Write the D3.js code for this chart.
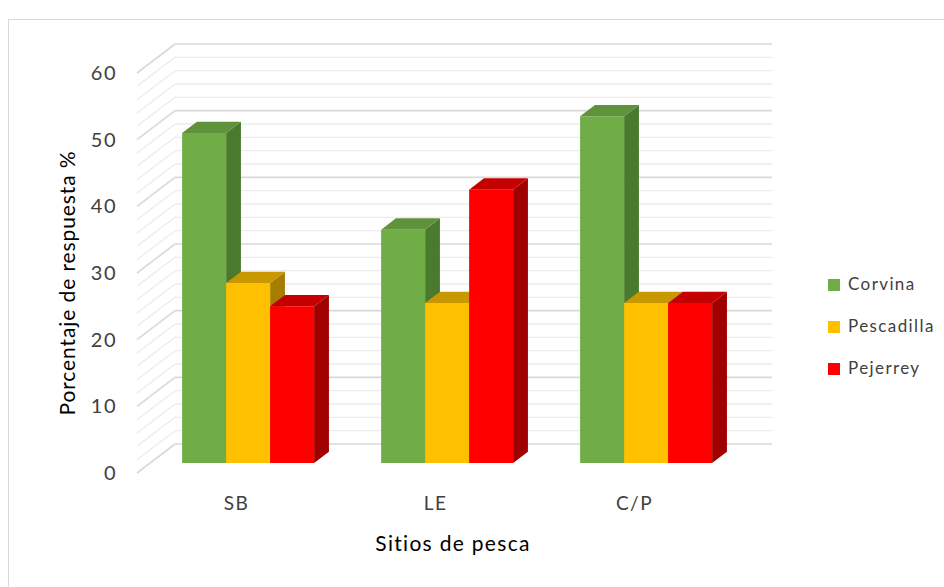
<!DOCTYPE html>
<html>
<head>
<meta charset="utf-8">
<script src="https://cdn.jsdelivr.net/npm/d3@7"></script>
<style>
  html, body { margin: 0; padding: 0; background: #fff; }
  svg { display: block; }
  text { font-family: Lato, "Open Sans", sans-serif; fill: #404040; }
</style>
</head>
<body>
<svg id="chart" width="944" height="587"></svg>
<script>
// Fish species mentioned per fishing site (% of responses)
const sites = ["SB", "LE", "C/P"];
const species = ["Corvina", "Pescadilla", "Pejerrey"];
const corvina = [49.5, 35, 52];
const pescadilla = [27, 24, 24];
const pejerrey = [23.5, 41, 24];
const yTicks = [0, 10, 20, 30, 40, 50, 60];

const seriesValues = [corvina, pescadilla, pejerrey];
const palette = {
  Corvina:    { front: "#70ad47", top: "#5f923b", side: "#4a7a2e" },
  Pescadilla: { front: "#ffc000", top: "#c99800", side: "#a67d00" },
  Pejerrey:   { front: "#ff0000", top: "#c40000", side: "#a00000" }
};

const svg = d3.select("#chart");

// outer chart frame
svg.append("rect")
  .attr("x", 8.5).attr("y", 19.5).attr("width", 960).attr("height", 600)
  .attr("fill", "none").attr("stroke", "#d9d9d9").attr("stroke-width", 1);

// 3D box: front-left floor corner, plot width, depth offsets
const ox = 137, oy = 473;
const plotW = 597;
const depthX = 38, depthY = 29;

const y = d3.scaleLinear().domain([0, 60]).range([0, 400]);
const x0 = d3.scaleBand().domain(sites).range([0, plotW]);
const x1 = d3.scaleBand().domain(species).range([32, x0.bandwidth() - 35]);

// project (x along categories, value, depth 0..1) into screen space
function P(x, v, z) {
  return [ox + x + depthX * z, oy - y(v) - depthY * z];
}

// gridlines on back wall and left side wall (minor every 2, major every 10)
const gridVals = d3.range(0, 61, 2);
const grid = svg.append("g");
gridVals.forEach(v => {
  const major = v % 10 === 0;
  const c = major ? "#d9d9d9" : "#ececec";
  const w = major ? 1.6 : 1.3;
  const a = P(0, v, 0), b = P(0, v, 1), e = P(plotW, v, 1);
  grid.append("line")
    .attr("x1", a[0]).attr("y1", a[1]).attr("x2", b[0]).attr("y2", b[1])
    .attr("stroke", c).attr("stroke-width", w);
  grid.append("line")
    .attr("x1", b[0]).attr("y1", b[1]).attr("x2", e[0]).attr("y2", e[1])
    .attr("stroke", c).attr("stroke-width", w);
});

// bars: front face, top and right side, drawn left to right
const zf = 0.345, zb = 0.735;
const bars = svg.append("g");
sites.forEach((site, i) => {
  species.forEach((sp, j) => {
    const v = seriesValues[j][i];
    const xl = x0(site) + x1(sp);
    const xr = xl + x1.bandwidth();
    const col = palette[sp];
    const poly = pts => pts.map(p => p.join(",")).join(" ");
    const g = bars.append("g");
    g.append("polygon")
      .attr("points", poly([P(xr, 0, zf), P(xr, 0, zb), P(xr, v, zb), P(xr, v, zf)]))
      .attr("fill", col.side);
    g.append("polygon")
      .attr("points", poly([P(xl, v, zf), P(xr, v, zf), P(xr, v, zb), P(xl, v, zb)]))
      .attr("fill", col.top);
    g.append("polygon")
      .attr("points", poly([P(xl, 0, zf), P(xr, 0, zf), P(xr, v, zf), P(xl, v, zf)]))
      .attr("fill", col.front);
  });
});

// value axis labels
svg.append("g").selectAll("text").data(yTicks).join("text")
  .attr("x", 117)
  .attr("y", d => oy - y(d) + 2)
  .attr("text-anchor", "end")
  .attr("dominant-baseline", "middle")
  .attr("font-size", 20)
  .attr("letter-spacing", 1.5)
  .text(d => d);

// category labels
svg.append("g").selectAll("text").data(sites).join("text")
  .attr("x", d => ox + x0(d) + x0.bandwidth() / 2)
  .attr("y", 505)
  .attr("text-anchor", "middle")
  .attr("dominant-baseline", "middle")
  .attr("font-size", 19)
  .attr("letter-spacing", 1.5)
  .text(d => d);

// axis titles
svg.append("text")
  .attr("x", 453).attr("y", 546)
  .attr("text-anchor", "middle")
  .attr("dominant-baseline", "middle")
  .attr("font-size", 21)
  .attr("letter-spacing", 1.3)
  .style("fill", "#000")
  .text("Sitios de pesca");

svg.append("text")
  .attr("transform", "translate(70,283) rotate(-90)")
  .attr("text-anchor", "middle")
  .attr("dominant-baseline", "middle")
  .attr("font-size", 21)
  .attr("letter-spacing", 0.9)
  .style("fill", "#000")
  .text("Porcentaje de respuesta %");

// legend
const legend = svg.append("g").selectAll("g").data(species).join("g")
  .attr("transform", (d, i) => `translate(828,${285 + i * 42})`);
legend.append("rect")
  .attr("x", 0).attr("y", -6).attr("width", 12).attr("height", 12)
  .attr("fill", d => palette[d].front);
legend.append("text")
  .attr("x", 20).attr("y", 1)
  .attr("dominant-baseline", "middle")
  .attr("font-size", 17)
  .attr("letter-spacing", 1.4)
  .text(d => d);
</script>
</body>
</html>
